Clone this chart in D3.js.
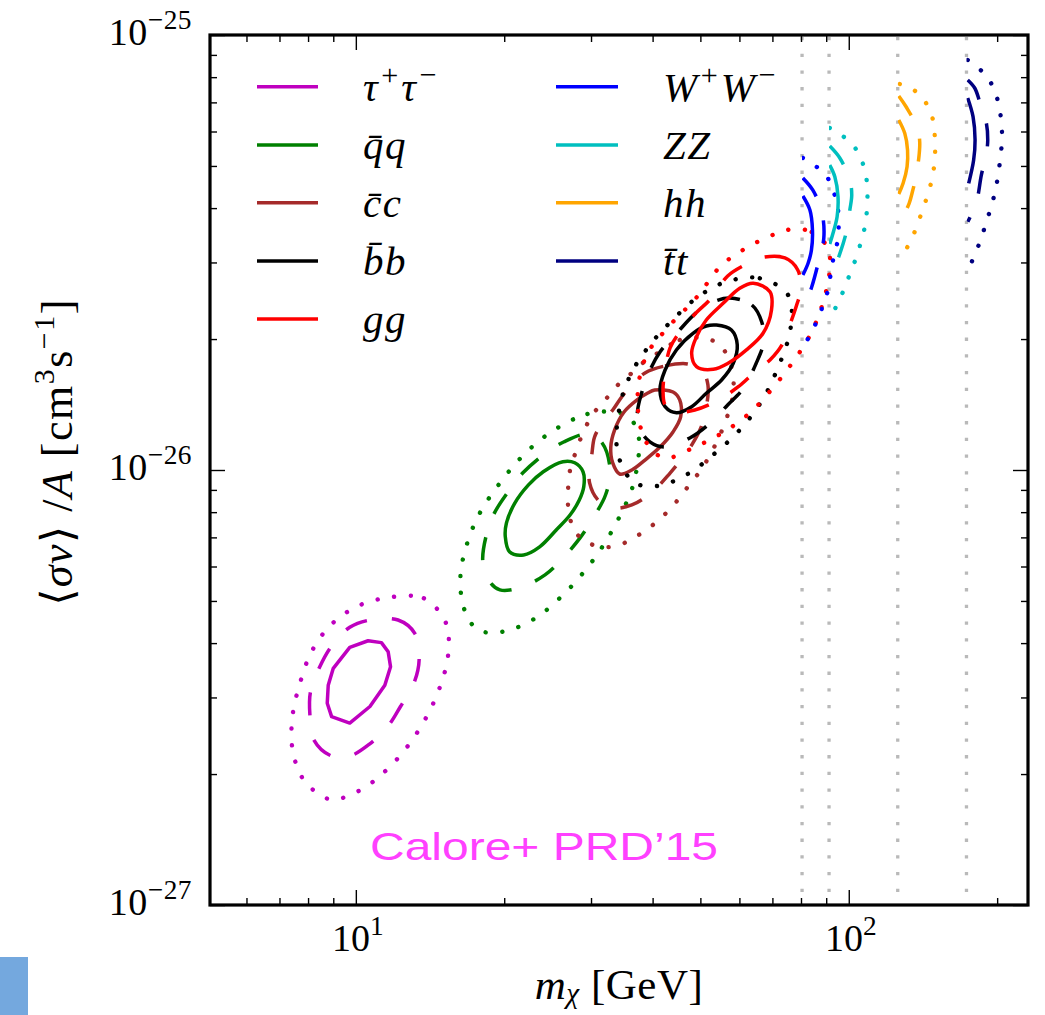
<!DOCTYPE html>
<html>
<head>
<meta charset="utf-8">
<script src="https://cdn.jsdelivr.net/npm/d3@7"></script>
<style>
  html, body { margin: 0; padding: 0; background: #fff; }
  svg { display: block; }
</style>
</head>
<body>
<svg id="chart" width="1045" height="1015"></svg>
<script>
// Best-fit contours (1, 2, 3 sigma) for each annihilation channel.
// Each point: [m_chi in GeV, <sigma v>/A in units of 1e-26 cm^3 s^-1]

const tauSolid  = [[10.59,0.405],[11.27,0.401],[11.63,0.382],[11.76,0.353],[11.45,0.320],[10.68,0.286],[9.72,0.262],[8.93,0.271],[8.75,0.291],[8.79,0.320],[9.00,0.350],[9.72,0.391]];
const tauDashed = [[10.68,0.452],[12.18,0.452],[13.17,0.421],[13.44,0.366],[13.11,0.323],[12.32,0.286],[11.63,0.258],[10.64,0.234],[9.72,0.220],[8.93,0.220],[8.23,0.239],[8.07,0.273],[8.09,0.309],[8.45,0.353],[8.93,0.394],[9.72,0.435]];
const tauDotted = [[11.76,0.510],[13.74,0.507],[15.22,0.446],[15.39,0.376],[14.81,0.317],[13.87,0.269],[12.71,0.231],[11.47,0.203],[10.15,0.183],[8.86,0.175],[7.84,0.194],[7.44,0.228],[7.44,0.272],[7.70,0.323],[8.13,0.382],[8.89,0.440],[10.11,0.487]];

const qqSolid  = [[26.3,1.045],[27.8,1.039],[28.9,0.991],[29.0,0.915],[28.4,0.853],[27.2,0.788],[25.5,0.728],[23.6,0.666],[21.9,0.638],[20.5,0.649],[20.1,0.703],[20.2,0.754],[21.0,0.838],[22.4,0.924],[24.0,0.991]];
const qqDashed = [[29.6,1.210],[31.6,1.154],[32.8,1.000],[32.1,0.876],[30.1,0.767],[28.5,0.698],[26.2,0.624],[24.2,0.574],[21.5,0.536],[19.6,0.530],[18.7,0.553],[18.1,0.614],[18.4,0.709],[19.1,0.796],[20.5,0.900],[21.8,0.984],[24.0,1.083],[26.4,1.160]];
const qqDotted = [[25.7,1.251],[29.5,1.345],[34.3,1.354],[36.6,1.285],[37.5,1.187],[37.5,1.088],[36.4,0.912],[34.2,0.777],[31.5,0.661],[28.8,0.577],[25.9,0.507],[23.0,0.4545],[19.9,0.425],[17.7,0.429],[16.6,0.478],[16.3,0.569],[16.8,0.675],[17.8,0.792],[19.4,0.919],[21.4,1.054],[23.4,1.160]];

const ccSolid  = [[40.4,1.527],[44.0,1.511],[45.4,1.449],[45.6,1.324],[44.0,1.223],[41.4,1.129],[38.6,1.054],[36.3,1.000],[34.3,0.979],[33.2,1.038],[32.9,1.129],[33.5,1.236],[35.0,1.359],[37.2,1.449],[39.1,1.503]];
const ccDashed = [[38.6,1.671],[42.4,1.734],[47.1,1.753],[50.6,1.680],[51.8,1.568],[51.5,1.411],[50.1,1.249],[48.3,1.154],[46.5,1.083],[43.4,0.984],[39.9,0.890],[36.3,0.831],[33.1,0.818],[31.0,0.853],[29.8,0.934],[29.8,1.011],[30.1,1.083],[30.5,1.191],[31.7,1.289],[33.2,1.374],[35.1,1.503]];
const ccDotted = [[41.0,1.858],[45.4,1.990],[50.8,2.011],[54.7,1.939],[57.4,1.771],[58.4,1.527],[56.8,1.338],[54.2,1.172],[50.6,1.016],[48.0,0.938],[46.1,0.886],[44.0,0.827],[41.6,0.776],[39.1,0.732],[36.6,0.698],[34.2,0.672],[31.6,0.665],[29.4,0.683],[27.9,0.720],[27.0,0.809],[27.2,1.000],[27.8,1.083],[28.5,1.172],[29.4,1.269],[30.5,1.359],[32.3,1.464],[34.0,1.568],[36.3,1.671],[38.2,1.762]];

const bbSolid  = [[53.9,2.154],[57.8,2.098],[59.4,1.939],[58.3,1.759],[55.2,1.610],[51.4,1.501],[48.0,1.398],[44.7,1.354],[42.4,1.398],[41.4,1.527],[42.4,1.698],[44.7,1.888],[48.3,2.062],[51.4,2.143]];
const bbDashed = [[57.4,2.486],[63.6,2.395],[66.6,2.189],[67.2,1.969],[64.8,1.753],[61.2,1.543],[56.8,1.411],[51.8,1.269],[47.6,1.185],[42.4,1.129],[39.5,1.160],[37.3,1.269],[37.3,1.374],[37.9,1.487],[39.1,1.653],[41.4,1.867],[44.8,2.065],[49.2,2.307],[53.0,2.433]];
const bbDotted = [[56.5,2.710],[66.0,2.759],[75.3,2.526],[76.2,2.117],[70.8,1.653],[66.0,1.418],[59.9,1.231],[53.5,1.092],[47.4,0.983],[41.0,0.919],[36.6,0.938],[34.0,1.092],[34.3,1.398],[36.2,1.668],[39.5,1.939],[43.9,2.212],[49.5,2.503]];

const ggSolid  = [[64.0,2.687],[69.2,2.570],[69.7,2.333],[67.0,2.062],[62.0,1.888],[56.9,1.759],[53.1,1.704],[49.1,1.728],[48.0,1.855],[49.1,2.025],[51.4,2.212],[55.6,2.416],[60.1,2.617]];
const ggDashed = [[66.0,3.072],[74.2,3.072],[78.8,2.883],[79.9,2.593],[78.4,2.395],[75.9,2.154],[73.2,1.939],[69.2,1.790],[64.5,1.680],[59.6,1.552],[54.0,1.441],[48.7,1.374],[44.4,1.359],[42.4,1.411],[42.0,1.527],[42.4,1.698],[43.4,1.908],[45.4,2.076],[49.2,2.307],[52.2,2.460],[56.8,2.793],[61.5,2.960]];
const ggDotted = [[77.4,3.581],[84.1,3.525],[90.7,3.238],[91.5,2.883],[88.6,2.420],[83.7,2.054],[77.0,1.771],[70.1,1.543],[63.3,1.359],[55.8,1.223],[48.7,1.129],[42.2,1.066],[38.6,1.172],[37.3,1.487],[38.9,1.838],[42.7,2.110],[49.2,2.499],[55.0,2.944],[62.4,3.255],[71.8,3.506]];

// Channels with a kinematic threshold: contours are open and start at the threshold mass
const wwSolid  = [[80.7,4.265],[83.4,3.961],[84.4,3.563],[84.0,3.204],[82.7,2.987],[80.7,2.807]];
const wwDashed = [[80.7,4.691],[84.5,4.403],[88.2,3.918],[89.0,3.415],[86.9,3.023],[84.1,2.634],[81.1,2.357]];
const wwDotted = [[80.7,5.215],[84.5,5.050],[89.8,4.767],[93.2,4.356],[95.0,4.004],[95.4,3.678],[95.0,3.379],[93.2,3.088],[92.0,2.852],[91.1,2.634],[89.0,2.420],[86.5,2.224],[83.7,2.054],[80.7,1.918]];

const zzSolid  = [[91.5,5.024],[93.7,4.724],[95.1,4.249],[94.7,3.822],[92.9,3.500],[91.5,3.307]];
const zzDashed = [[91.5,5.556],[95.9,5.215],[100.5,4.642],[101.4,4.288],[100.5,3.961],[99.1,3.563],[97.2,3.290],[95.4,3.088],[91.5,2.720]];
const zzDotted = [[91.5,6.113],[95.9,5.922],[101.7,5.607],[105.8,5.206],[108.3,4.767],[109.1,4.379],[108.9,4.009],[108.1,3.678],[106.1,3.379],[103.7,3.093],[100.9,2.856],[98.2,2.630],[95.1,2.424],[91.8,2.239]];

const hhSolid  = [[126.3,6.378],[129.9,5.943],[131.6,5.439],[131.3,4.981],[128.9,4.561],[126.3,4.311]];
const hhDashed = [[126.3,7.240],[130.9,6.821],[137.9,6.103],[139.3,5.675],[138.9,5.298],[136.8,4.699],[134.9,4.403],[132.6,4.103],[126.5,3.672]];
const hhDotted = [[126.9,7.717],[136.1,7.447],[143.3,6.989],[147.9,6.435],[149.4,5.890],[149.7,5.391],[148.8,4.938],[146.5,4.520],[143.3,4.160],[139.8,3.837],[136.1,3.531],[131.6,3.261],[126.5,3.012]];

const ttSolid  = [[174.3,7.164],[178.7,6.490],[180.4,5.736],[179.2,5.160],[175.1,4.561]];
const ttDashed = [[174.3,7.882],[180.1,7.554],[184.3,7.026],[190.2,6.266],[191.4,5.736],[190.2,5.346],[185.8,4.767],[181.6,4.138],[174.4,3.722]];
const ttDotted = [[174.3,8.760],[180.1,8.531],[190.2,8.047],[197.7,7.447],[201.8,6.842],[204.0,6.286],[204.6,5.736],[203.1,5.250],[201.2,4.810],[198.4,4.403],[194.7,4.045],[190.2,3.722],[185.8,3.420],[180.9,3.160],[175.1,2.902]];

// Threshold masses (GeV): W, Z, h, t
const thresholdMasses = [80.4, 91.2, 125.7, 173.3];

// Axis ticks
const xMajorTicks = [10, 100];
const xMinorTicks = [6, 7, 8, 9, 20, 30, 40, 50, 60, 70, 80, 90, 200];
const yMajorTicks = [1e-27, 1e-26, 1e-25];
const yMinorTicks = [2e-27, 3e-27, 4e-27, 5e-27, 6e-27, 7e-27, 8e-27, 9e-27,
                     2e-26, 3e-26, 4e-26, 5e-26, 6e-26, 7e-26, 8e-26, 9e-26];
const xTickExponents = ["1", "2"];
const yTickExponents = ["\u221227", "\u221226", "\u221225"];

// Legend entries (math italic)
const legendLeft  = [
  [{t: "\u03c4"}, {t: "+", sup: true}, {t: "\u03c4"}, {t: "\u2212", sup: true}],
  [{t: "q\u0304q"}],
  [{t: "c\u0304c"}],
  [{t: "b\u0304b"}],
  [{t: "gg"}]
];
const legendRight = [
  [{t: "W"}, {t: "+", sup: true}, {t: "W"}, {t: "\u2212", sup: true}],
  [{t: "ZZ"}],
  [{t: "hh"}],
  [{t: "t\u0304t"}]
];

// ---------------------------------------------------------------------------
const svg = d3.select("#chart");
const W = 1045, H = 1015;
const plot = {left: 210, right: 1028, top: 35, bottom: 905};
const serif = "'Liberation Serif', 'DejaVu Serif', 'Times New Roman', serif";

const x = d3.scaleLog().domain([5.06, 231]).range([plot.left, plot.right]);
const y = d3.scaleLog().domain([1e-27, 1e-25]).range([plot.bottom, plot.top]);

svg.append("rect").attr("width", W).attr("height", H).attr("fill", "#fff");

const defs = svg.append("defs");
defs.append("clipPath").attr("id", "plot-clip")
  .append("rect")
  .attr("x", plot.left).attr("y", plot.top)
  .attr("width", plot.right - plot.left).attr("height", plot.bottom - plot.top);

// Vertical dotted lines at the thresholds
const grid = svg.append("g").attr("clip-path", "url(#plot-clip)");
grid.selectAll("line.thr").data(thresholdMasses).join("line")
  .attr("class", "thr")
  .attr("x1", d => x(d)).attr("x2", d => x(d))
  .attr("y1", plot.top).attr("y2", plot.bottom)
  .attr("stroke", "#b9b9b9").attr("stroke-width", 3.3)
  .attr("stroke-dasharray", "3.3 13.4").attr("stroke-dashoffset", -2);

// Channels
const channels = [
  {color: "#bf00bf", levels: [tauSolid, tauDashed, tauDotted], threshold: null, polygon: true},
  {color: "#008000", levels: [qqSolid,  qqDashed,  qqDotted],  threshold: null},
  {color: "#a52a2a", levels: [ccSolid,  ccDashed,  ccDotted],  threshold: null},
  {color: "#000000", levels: [bbSolid,  bbDashed,  bbDotted],  threshold: null},
  {color: "#ff0000", levels: [ggSolid,  ggDashed,  ggDotted],  threshold: null},
  {color: "#0000ff", levels: [wwSolid,  wwDashed,  wwDotted],  threshold: thresholdMasses[0]},
  {color: "#00bfbf", levels: [zzSolid,  zzDashed,  zzDotted],  threshold: thresholdMasses[1]},
  {color: "#ffa500", levels: [hhSolid,  hhDashed,  hhDotted],  threshold: thresholdMasses[2]},
  {color: "#000080", levels: [ttSolid,  ttDashed,  ttDotted],  threshold: thresholdMasses[3]}
];

const levelStyle = [
  {dash: null,        width: 3.5, cap: "butt"},
  {dash: "23 25",     width: 3.5, cap: "butt"},
  {dash: "0.1 16.6",  width: 4.4, cap: "round"}
];

const px = d => x(d[0]);
const py = d => y(d[1] * 1e-26);

const contours = svg.append("g").attr("clip-path", "url(#plot-clip)");
channels.forEach((ch, ci) => {
  let g = contours.append("g");
  const open = ch.threshold !== null;
  if (open) {
    const id = "thr-clip-" + ci;
    defs.append("clipPath").attr("id", id).append("rect")
      .attr("x", x(ch.threshold)).attr("y", plot.top)
      .attr("width", plot.right - x(ch.threshold)).attr("height", plot.bottom - plot.top);
    g.attr("clip-path", `url(#${id})`);
  }
  ch.levels.forEach((pts, li) => {
    let curve;
    if (open) curve = d3.curveCatmullRom.alpha(0.5);
    else if (ch.polygon && li === 0) curve = d3.curveLinearClosed;
    else curve = d3.curveCatmullRomClosed.alpha(0.5);
    const line = d3.line().x(px).y(py).curve(curve);
    const st = levelStyle[li];
    g.append("path")
      .attr("d", line(pts))
      .attr("fill", "none")
      .attr("stroke", ch.color)
      .attr("stroke-width", st.width)
      .attr("stroke-linecap", st.cap)
      .attr("stroke-linejoin", "round")
      .attr("stroke-dasharray", st.dash);
  });
});

// Rich text helper (superscripts / subscripts through tspans)
function richText(parent, tx, ty, parts, o) {
  const t = parent.append("text")
    .attr("x", tx).attr("y", ty)
    .attr("font-family", o.family || serif)
    .attr("font-size", o.size)
    .attr("text-anchor", o.anchor || "start")
    .attr("fill", o.fill || "#000");
  if (o.italic) t.attr("font-style", "italic");
  if (o.transform) t.attr("transform", o.transform);
  if (o.spacing) t.attr("letter-spacing", o.spacing);
  const supRaise = o.supRaise || 0.42;
  const subDrop = o.subDrop || 0.22;
  let shift = 0;
  parts.forEach(p => {
    const target = p.sup ? -supRaise * o.size : (p.sub ? subDrop * o.size : 0);
    const ts = t.append("tspan").text(p.t);
    if (target - shift !== 0) ts.attr("dy", target - shift);
    shift = target;
    if (p.sup || p.sub) ts.attr("font-size", o.size * (o.supScale || 0.68));
    if (p.it !== undefined) ts.attr("font-style", p.it ? "italic" : "normal");
  });
  return t;
}

// Legend
const legend = svg.append("g");
const legendRowY = [86.7, 145, 202.7, 261, 319];
const leftColors = channels.slice(0, 5).map(c => c.color);
const rightColors = channels.slice(5).map(c => c.color);
legendLeft.forEach((parts, i) => {
  legend.append("line").attr("x1", 257).attr("x2", 318)
    .attr("y1", legendRowY[i]).attr("y2", legendRowY[i])
    .attr("stroke", leftColors[i]).attr("stroke-width", 3.4);
  richText(legend, 363, legendRowY[i] + 14, parts,
    {size: 41, italic: true, supScale: 0.74, supRaise: 0.38, spacing: 1.5});
});
legendRight.forEach((parts, i) => {
  legend.append("line").attr("x1", 556).attr("x2", 618)
    .attr("y1", legendRowY[i]).attr("y2", legendRowY[i])
    .attr("stroke", rightColors[i]).attr("stroke-width", 3.4);
  richText(legend, 663, legendRowY[i] + 14, parts,
    {size: 41, italic: true, supScale: 0.74, supRaise: 0.38, spacing: 1.5});
});

// Annotation
svg.append("text")
  .attr("x", 370).attr("y", 860)
  .attr("font-family", "'Liberation Sans Narrow', 'Liberation Sans', 'DejaVu Sans Condensed', sans-serif")
  .attr("font-size", 39)
  .attr("fill", "#ff40ff")
  .attr("textLength", 348).attr("lengthAdjust", "spacingAndGlyphs")
  .text("Calore+ PRD\u201915");

// Axes: ticks drawn inward on all four sides
const axes = svg.append("g");
function styleAxis(sel) {
  sel.select(".domain").remove();
  sel.selectAll(".tick line").attr("stroke", "#000").attr("stroke-width", 1.4);
  sel.selectAll(".tick text").remove();
}
axes.append("g").attr("transform", `translate(0,${plot.bottom})`)
  .call(d3.axisBottom(x).tickValues(xMajorTicks).tickSizeInner(-15).tickSizeOuter(0)).call(styleAxis);
axes.append("g").attr("transform", `translate(0,${plot.bottom})`)
  .call(d3.axisBottom(x).tickValues(xMinorTicks).tickSizeInner(-7).tickSizeOuter(0)).call(styleAxis);
axes.append("g").attr("transform", `translate(0,${plot.top})`)
  .call(d3.axisTop(x).tickValues(xMajorTicks).tickSizeInner(-15).tickSizeOuter(0)).call(styleAxis);
axes.append("g").attr("transform", `translate(0,${plot.top})`)
  .call(d3.axisTop(x).tickValues(xMinorTicks).tickSizeInner(-7).tickSizeOuter(0)).call(styleAxis);
axes.append("g").attr("transform", `translate(${plot.left},0)`)
  .call(d3.axisLeft(y).tickValues(yMajorTicks).tickSizeInner(-15).tickSizeOuter(0)).call(styleAxis);
axes.append("g").attr("transform", `translate(${plot.left},0)`)
  .call(d3.axisLeft(y).tickValues(yMinorTicks).tickSizeInner(-7).tickSizeOuter(0)).call(styleAxis);
axes.append("g").attr("transform", `translate(${plot.right},0)`)
  .call(d3.axisRight(y).tickValues(yMajorTicks).tickSizeInner(-15).tickSizeOuter(0)).call(styleAxis);
axes.append("g").attr("transform", `translate(${plot.right},0)`)
  .call(d3.axisRight(y).tickValues(yMinorTicks).tickSizeInner(-7).tickSizeOuter(0)).call(styleAxis);

// Frame
svg.append("rect")
  .attr("x", plot.left).attr("y", plot.top)
  .attr("width", plot.right - plot.left).attr("height", plot.bottom - plot.top)
  .attr("fill", "none").attr("stroke", "#000").attr("stroke-width", 3.2);

// Tick labels
const labels = svg.append("g");
xMajorTicks.forEach((v, i) => {
  richText(labels, x(v) + 2, plot.bottom + 46,
    [{t: "10"}, {t: xTickExponents[i], sup: true}],
    {size: 38, anchor: "middle", supScale: 0.72});
});
yMajorTicks.forEach((v, i) => {
  richText(labels, plot.left - 18, y(v) + 10,
    [{t: "10"}, {t: yTickExponents[i], sup: true}],
    {size: 38, anchor: "end", supScale: 0.72, spacing: 0.5});
});

// Axis titles
richText(labels, (plot.left + plot.right) / 2, 999,
  [{t: "m", it: true}, {t: "\u03c7", sub: true, it: true}, {t: " [GeV]"}],
  {size: 43, anchor: "middle", subDrop: 0.1, spacing: 0.5});

richText(labels, 0, 0,
  [{t: "\u27e8"}, {t: "\u03c3v", it: true}, {t: "\u27e9 /"}, {t: "A", it: true},
   {t: " [cm"}, {t: "3", sup: true}, {t: "s"}, {t: "\u22121", sup: true}, {t: "]"}],
  {size: 44, anchor: "middle", spacing: 1.5, transform: "translate(72,452) rotate(-90)"});

// Slide accent block
svg.append("rect").attr("x", 0).attr("y", 957).attr("width", 28).attr("height", 58)
  .attr("fill", "#74a8de");
</script>
</body>
</html>
